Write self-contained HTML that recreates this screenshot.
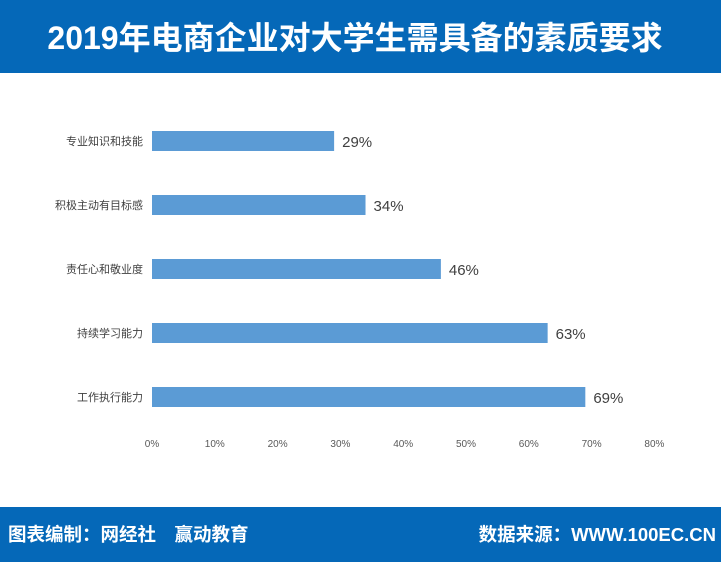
<!DOCTYPE html>
<html><head><meta charset="utf-8"><style>
body{margin:0;width:721px;height:562px;overflow:hidden;background:#fff;font-family:"Liberation Sans","Noto Sans CJK SC",sans-serif}
</style></head><body>
<svg width="721" height="562" xmlns="http://www.w3.org/2000/svg">
<rect x="0" y="0" width="721" height="73" fill="#0568b8"/>
<text x="355" y="49" text-anchor="middle" fill="#fff" font-size="32" font-weight="bold" font-family="Liberation Sans, Noto Sans CJK SC, sans-serif">2019年电商企业对大学生需具备的素质要求</text>
<rect x="0" y="507" width="721" height="55" fill="#0568b8"/>
<text x="8" y="541" fill="#fff" font-size="18.5" font-weight="bold" font-family="Liberation Sans, Noto Sans CJK SC, sans-serif">图表编制：网经社　赢动教育</text>
<text x="716" y="541" text-anchor="end" fill="#fff" font-size="18.5" font-weight="bold" font-family="Liberation Sans, Noto Sans CJK SC, sans-serif">数据来源：WWW.100EC.CN</text>
<g id="plot"></g>
</svg>
<script>
const categories=["专业知识和技能","积极主动有目标感","责任心和敬业度","持续学习能力","工作执行能力"];
const values=[29,34,46,63,69];
const ticks=[0,10,20,30,40,50,60,70,80];
const x0=152,pxPer=6.28,yTop=109,band=64,barH=20;
const xs=v=>x0+v*pxPer;
const ys=i=>yTop+band*i+band/2;
const ns="http://www.w3.org/2000/svg";
const g=document.getElementById('plot');
function mk(t,a){const e=document.createElementNS(ns,t);for(const k in a)e.setAttribute(k,a[k]);g.appendChild(e);return e;}
ticks.forEach(t=>{
 const e=mk('text',{x:xs(t),y:447,'text-anchor':'middle','font-size':10,fill:'#595959'});
 e.textContent=t+'%';
 
 
});
categories.forEach((c,i)=>{
 const y=ys(i);
 const l=mk('text',{x:143,y:y+4,'text-anchor':'end','font-size':11,fill:'#404040'});
 l.textContent=c;
 
 
 const b=mk('rect',{x:x0,y:y-barH/2,width:xs(values[i])-x0,height:barH,fill:'#5b9bd5'});
 
 
 const v=mk('text',{x:xs(values[i])+8,y:y+6,'font-size':15,fill:'#404040'});
 v.textContent=values[i]+'%';
 
 
});
</script>
</body></html>
